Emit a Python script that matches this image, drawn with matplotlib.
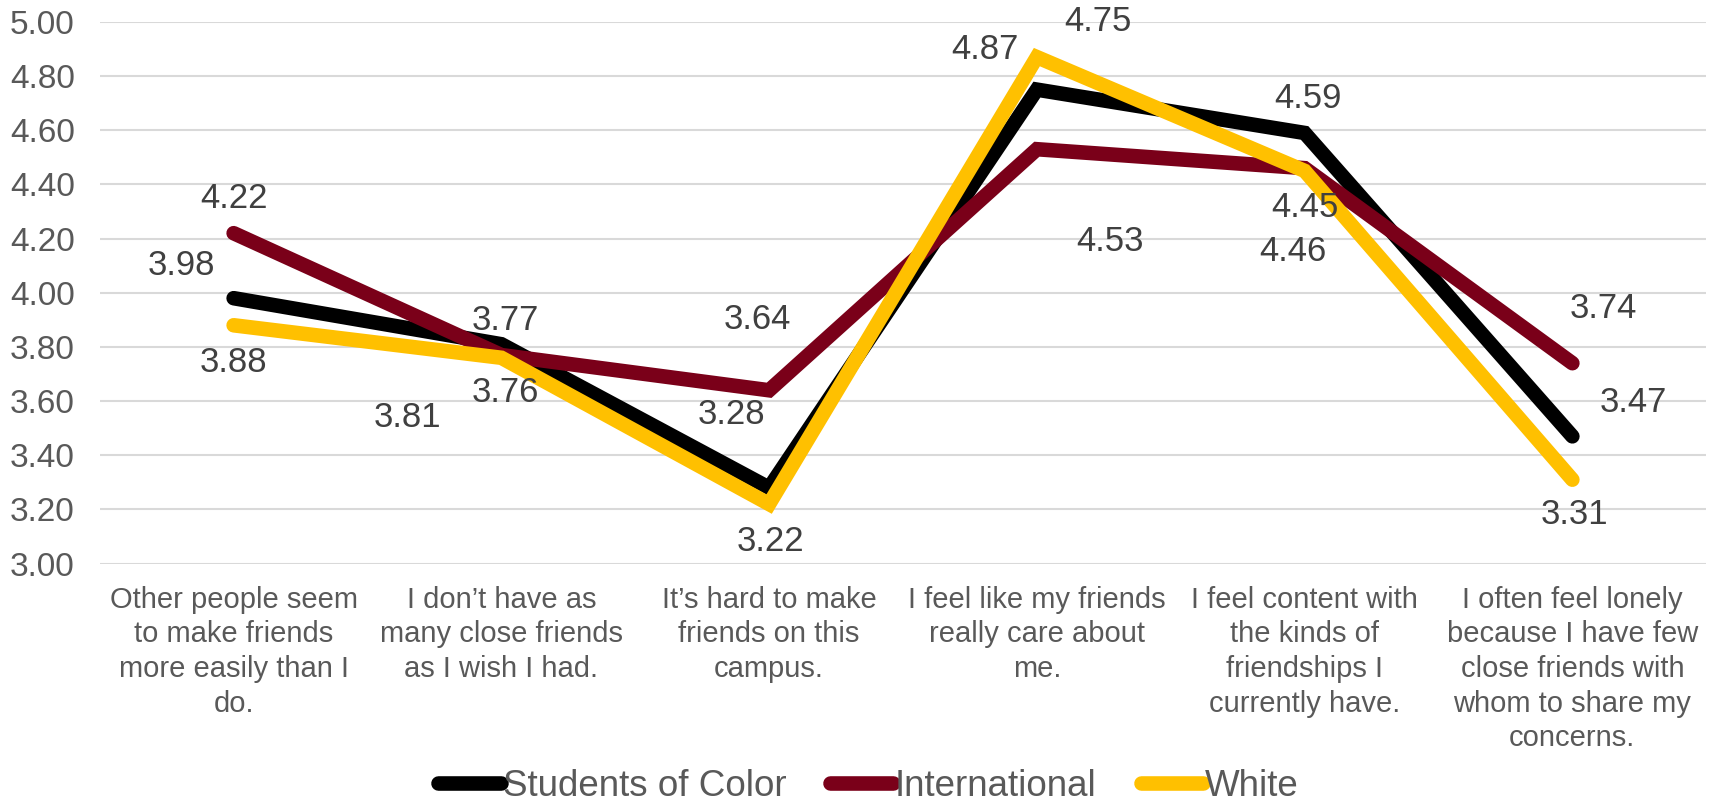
import numpy as np
import matplotlib.pyplot as plt

plt.rcParams['font.family'] = ['Liberation Sans', 'DejaVu Sans']

categories = [
    "Other people seem\nto make friends\nmore easily than I\ndo.",
    "I don\u2019t have as\nmany close friends\nas I wish I had.",
    "It\u2019s hard to make\nfriends on this\ncampus.",
    "I feel like my friends\nreally care about\nme.",
    "I feel content with\nthe kinds of\nfriendships I\ncurrently have.",
    "I often feel lonely\nbecause I have few\nclose friends with\nwhom to share my\nconcerns.",
]
students_of_color = [3.98, 3.81, 3.28, 4.75, 4.59, 3.47]
international = [4.22, 3.77, 3.64, 4.53, 4.46, 3.74]
white = [3.88, 3.76, 3.22, 4.87, 4.45, 3.31]
series_names = ['Students of Color', 'International', 'White']

colors = ['#000000', '#7A0019', '#FFC000']

# label offsets in pixels (dx, dy) for each series / point
offsets = [
    [(-52, 33), (-94, -73), (-38, 73), (61, 68), (3, 34), (61, 34)],
    [(0, 35), (4, 35), (-12, 71), (73, -92), (-12, -83), (31, 55)],
    [(0, -37), (4, -35), (1, -37), (-52, 8), (0, -37), (2, -35)],
]

fig = plt.figure(figsize=(17.2, 8.11), dpi=100)
ax = fig.add_axes([0.058, 0.305, 0.934, 0.668])

x = np.arange(len(categories))
all_series = [students_of_color, international, white]
for i, vals in enumerate(all_series):
    ax.plot(x, vals, color=colors[i], lw=10.5, label=series_names[i],
            solid_capstyle='round', solid_joinstyle='miter', zorder=3 + i)
    for j, v in enumerate(vals):
        ax.annotate(f'{v:.2f}', (x[j], v), xytext=offsets[i][j],
                    textcoords='offset pixels', ha='center', va='center',
                    fontsize=25, color='#404040', zorder=10)

ax.set_xlim(-0.5, len(categories) - 0.5)
ax.set_ylim(3.0, 5.0)
ticks = np.arange(3.0, 5.01, 0.2)
ax.set_yticks(ticks)
ax.set_yticklabels([f'{t:.2f}' for t in ticks])
ax.set_xticks(x)
ax.set_xticklabels(categories, fontsize=21, color='#595959', linespacing=1.3,
                   va='top')
ax.tick_params(axis='y', labelsize=24, labelcolor='#595959', length=0, pad=18)
ax.tick_params(axis='x', length=0, pad=16)
ax.grid(axis='y', color='#D9D9D9', lw=1.5)
ax.set_axisbelow(True)
for s in ax.spines.values():
    s.set_visible(False)

handles, labels = ax.get_legend_handles_labels()
leg = fig.legend(handles, labels, loc='center', bbox_to_anchor=(0.505, 0.03), ncol=3,
                 frameon=False, fontsize=26.5, handlelength=1.7, handletextpad=0.05,
                 columnspacing=1.2, borderpad=0)
for t in leg.get_texts():
    t.set_color('#595959')
for h in leg.get_lines():
    h.set_solid_capstyle('round')

fig.savefig('out.png', dpi=100)
